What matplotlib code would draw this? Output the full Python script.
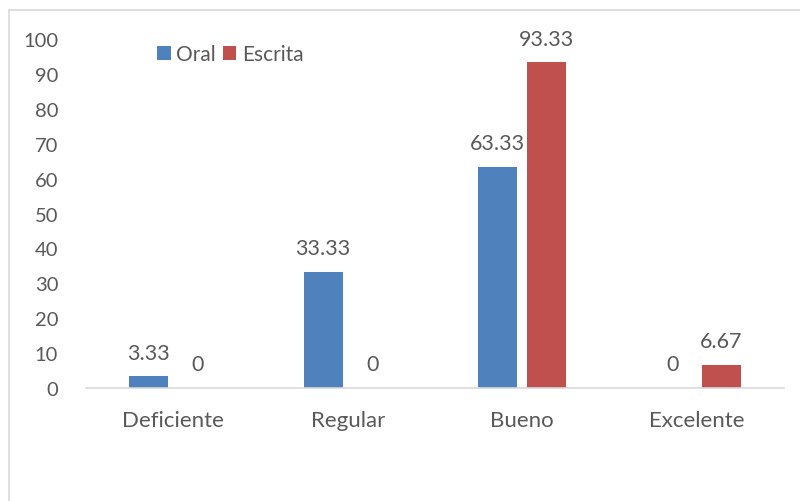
import matplotlib

matplotlib.use('Agg')
import matplotlib.pyplot as plt
from matplotlib.lines import Line2D
import numpy as np

categorias = ['Deficiente', 'Regular', 'Bueno', 'Excelente']
oral = [3.33, 33.33, 63.33, 0]
escrita = [0, 0, 93.33, 6.67]

plt.rcParams['font.family'] = ['Lato', 'DejaVu Sans']
texto = '#595959'

fig = plt.figure(figsize=(8, 5.02), dpi=100)
ax = fig.add_axes([0.1075, 0.225, 0.8725, 0.695])

x = np.arange(len(categorias))
ancho = 0.224
desp = 0.141
b1 = ax.bar(x - desp, oral, ancho, color='#4F81BD', label='Oral')
b2 = ax.bar(x + desp, escrita, ancho, color='#C0504D', label='Escrita')

for barras, vals in [(b1, oral), (b2, escrita)]:
    for b, v in zip(barras, vals):
        etiqueta = f'{v:g}' if v != 0 else '0'
        ax.annotate(etiqueta, (b.get_x() + b.get_width() / 2, v), xytext=(0, 10),
                    textcoords='offset points', ha='center', va='bottom',
                    fontsize=15.5, color=texto)

ax.set_xlim(-0.5, 3.5)
ax.set_ylim(0, 100)
ax.set_yticks(range(0, 101, 10))
ax.set_xticks(x)
ax.set_xticklabels(categorias, fontsize=16)
ax.tick_params(axis='y', labelsize=14.5)
ax.tick_params(axis='both', length=0, colors=texto)
ax.tick_params(axis='x', pad=16)
ax.tick_params(axis='y', pad=20)
for s in ['left', 'right', 'top']:
    ax.spines[s].set_visible(False)
ax.spines['bottom'].set_color('#D9D9D9')
ax.spines['bottom'].set_linewidth(1.2)

ax.legend(loc='upper left', bbox_to_anchor=(0.075, 1.04), ncol=2, frameon=False,
          fontsize=15, labelcolor=texto, handlelength=0.65, handleheight=0.65,
          handletextpad=0.25, columnspacing=0.35)

# borde del area del grafico
fig.add_artist(Line2D([0.011, 1.0], [1 - 11 / 502, 1 - 11 / 502], color='#D9D9D9', lw=1.2))
fig.add_artist(Line2D([0.011, 0.011], [0.0, 1 - 11 / 502], color='#D9D9D9', lw=1.2))

fig.savefig('out.png', dpi=100)
